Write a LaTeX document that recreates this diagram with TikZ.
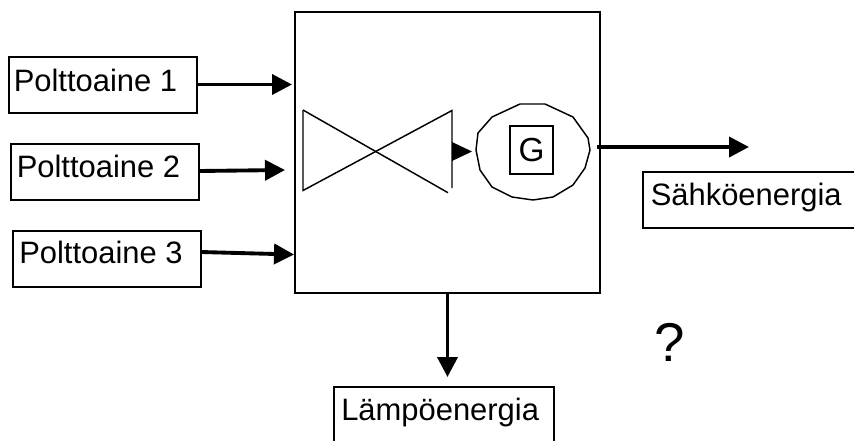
\documentclass[tikz,border=0pt]{standalone}
\usepackage{fontspec}
\setmainfont{Liberation Sans}
\usetikzlibrary{arrows.meta}
\tikzset{
 lbl/.style={draw=black,line width=1.2pt,rectangle,inner sep=0pt,outer sep=0pt,anchor=north west},
 txt/.style={inner sep=0pt,font=\fontsize{23.2pt}{26pt}\selectfont,anchor=base west},
 flow/.style={line width=2.9pt,-{Triangle[length=15pt,width=15pt]}},
 thin1/.style={line width=1.1pt}
}
\begin{document}
\begin{tikzpicture}[x=0.75pt,y=-0.75pt]
\useasboundingbox (0,0) rectangle (854,440);
\node[lbl,minimum width=141pt,minimum height=42pt] (p1) at (9,57) {};
\node[lbl,minimum width=141pt,minimum height=42pt] (p2) at (11,144) {};
\node[lbl,minimum width=141pt,minimum height=42pt] (p3) at (13,231) {};
\node[txt] at (13.5,91) {Polttoaine 1};
\node[txt] at (16.5,177.7) {Polttoaine 2};
\node[txt] at (19,263) {Polttoaine 3};
\node[lbl,minimum width=228.75pt,minimum height=210.75pt] (main) at (295,12) {};
\coordinate (s1) at (197,84.5);
\coordinate (a1) at (292,84.5);
\coordinate (s2) at (199,171);
\coordinate (a2) at (285,170);
\coordinate (s3) at (201,252);
\coordinate (a3) at (294,254.5);
\draw[flow] (s1) -- (a1);
\draw[flow] (s2) -- (a2);
\draw[flow] (s3) -- (a3);
\draw[thin1] (303,110) -- (303,190.5) -- (452,110.5) -- (452,188);
\draw[thin1] (303,110) -- (448,192.7);
\coordinate (t1) at (452,142);
\coordinate (t2) at (452,161);
\coordinate (t3) at (472,151.5);
\fill (t1) -- (t3) -- (t2) -- cycle;
\draw[thin1] (520,104) -- (545,104) -- (573,117) -- (588,138) -- (590,150) -- (585,168) -- (573,185) -- (553,197) -- (533,200) -- (512,197) -- (492,187) -- (480,170) -- (476,150) -- (478,133) -- (492,117) -- cycle;
\node[draw,thin1,outer sep=0pt,minimum width=32pt,minimum height=36pt,inner sep=0pt,font=\fontsize{25pt}{28pt}\selectfont] (g) at (531.5,150) {G};
\coordinate (es) at (597,147);
\coordinate (e) at (749,147);
\draw[flow] (es) -- (e);
\node[lbl,minimum width=200pt,minimum height=42pt] (se) at (643,172) {};
\node[txt] at (650.5,205) {Sähköenergia};
\node[lbl,minimum width=165pt,minimum height=55pt] (le) at (334,387) {};
\node[txt] at (341,420) {Lämpöenergia};
\coordinate (ds) at (447.5,293);
\coordinate (de) at (447.5,377);
\draw[flow] (ds) -- (de);
\node[inner sep=0pt,font=\fontsize{41pt}{44pt}\selectfont] (q) at (669.5,342.5) {?};
\end{tikzpicture}
\end{document}
